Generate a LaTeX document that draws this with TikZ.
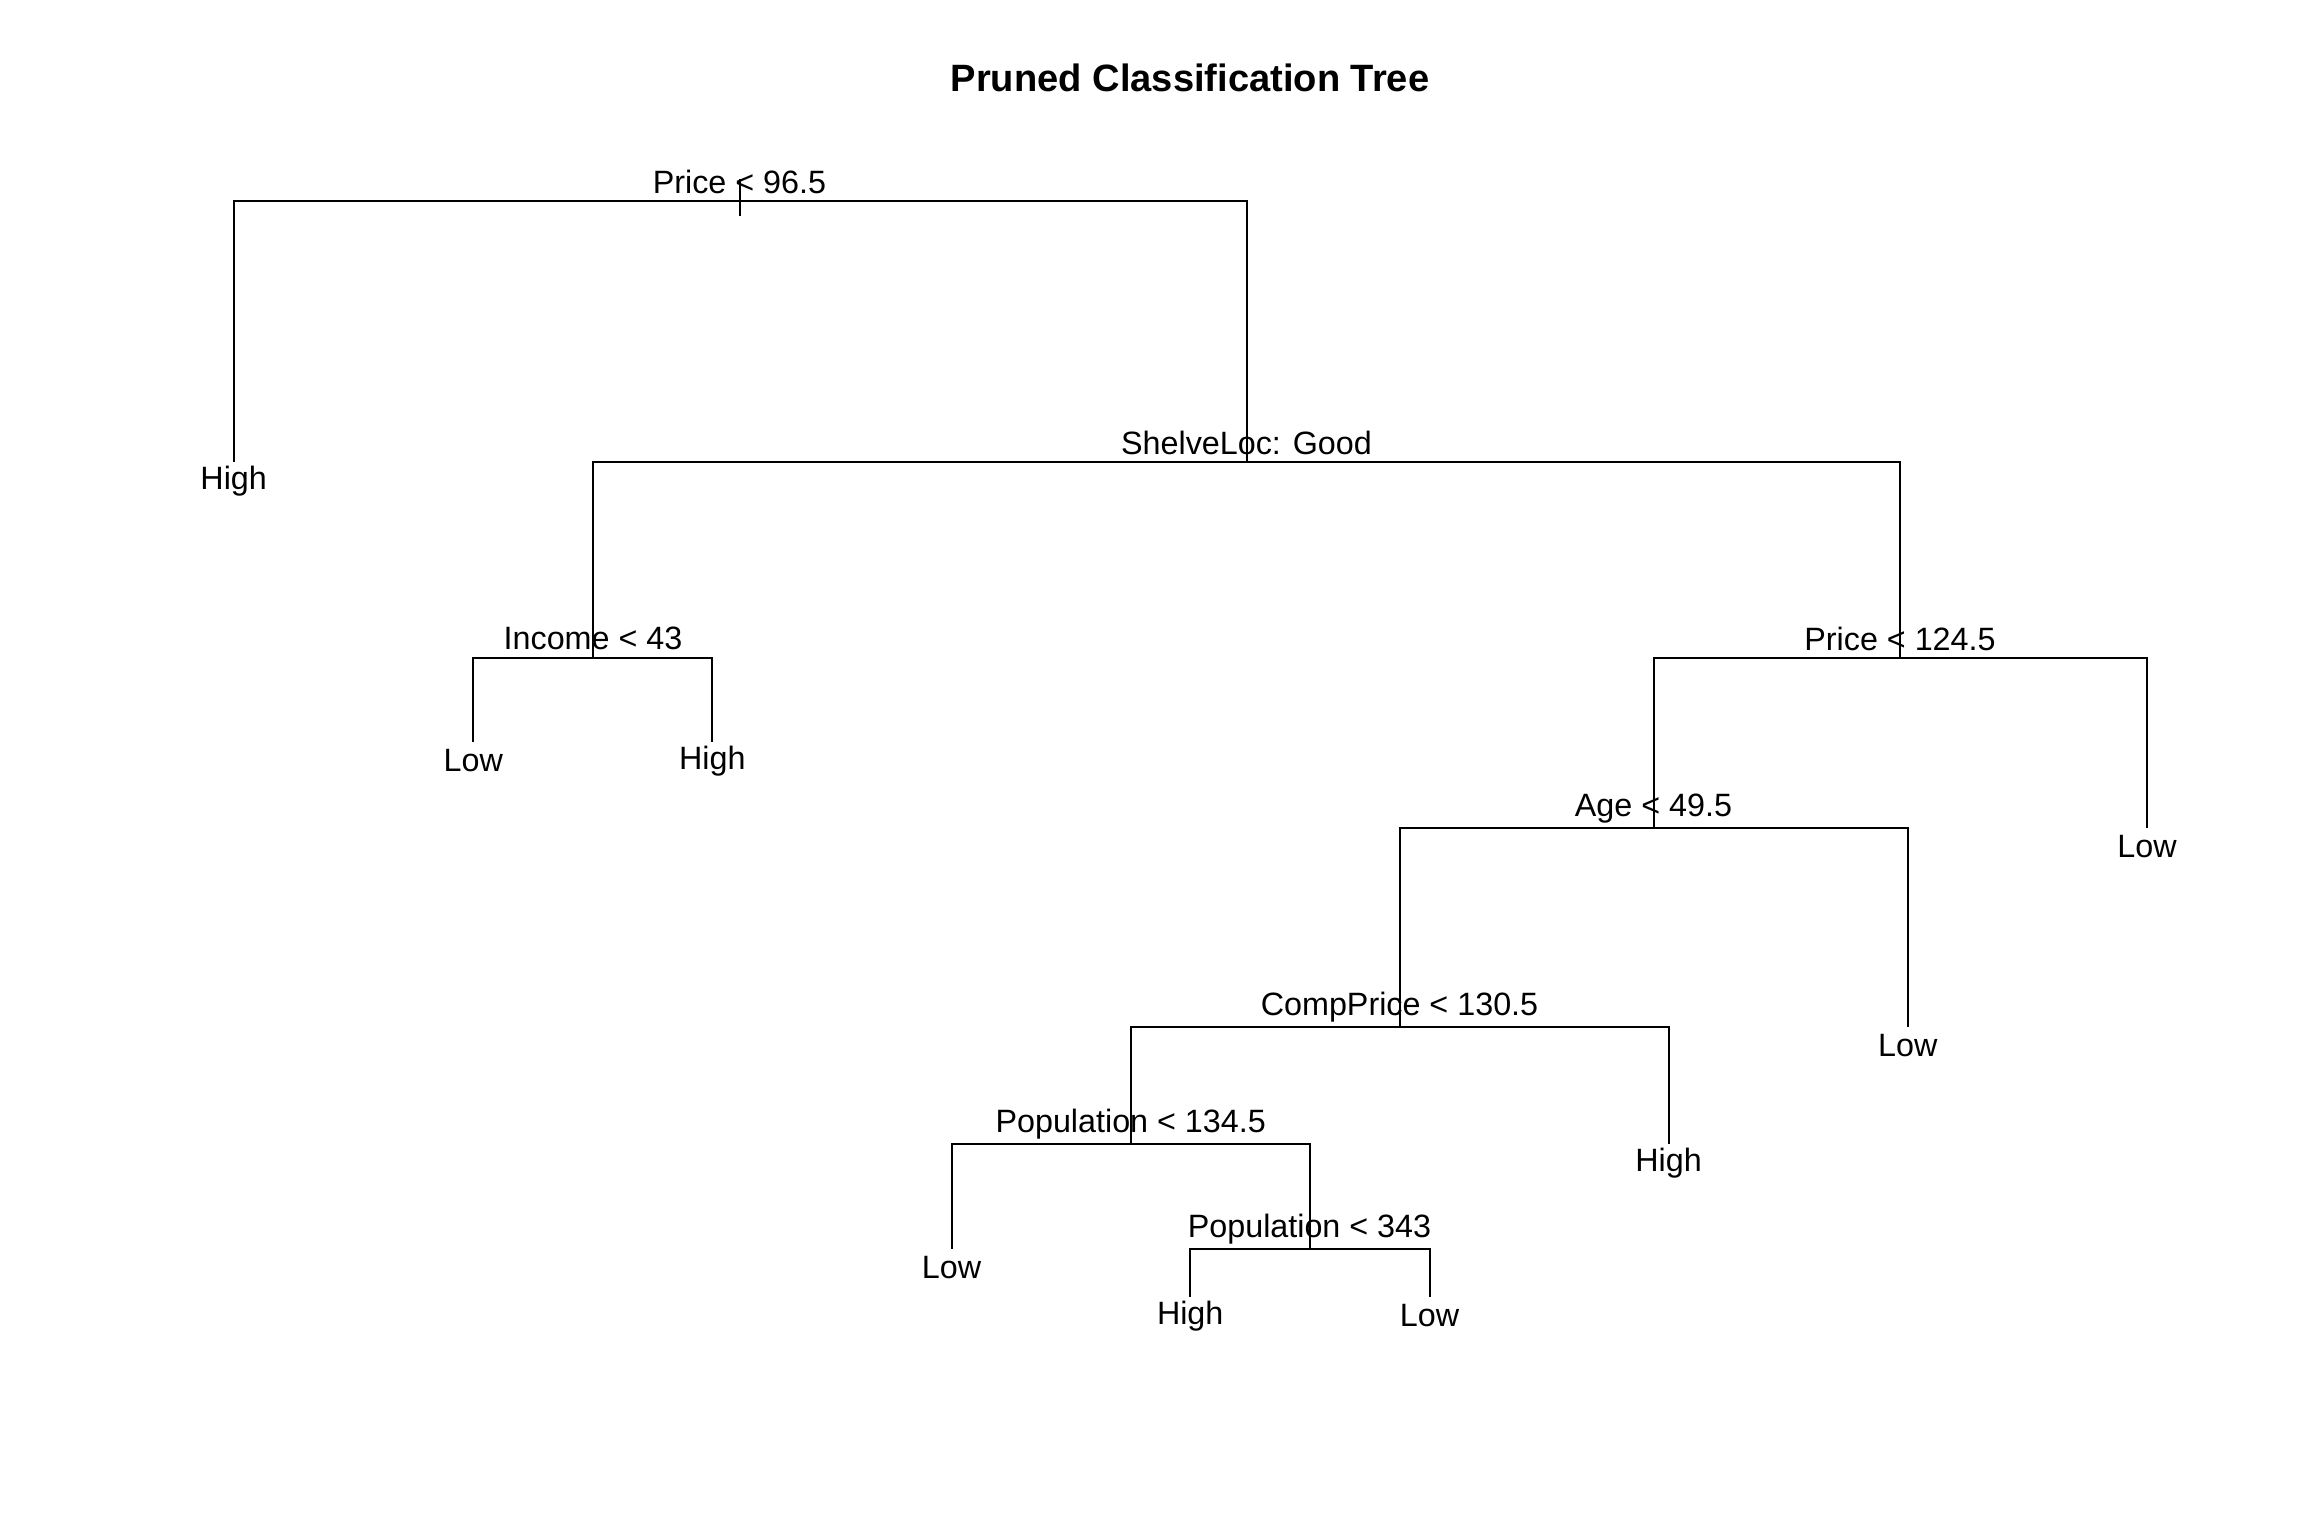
\documentclass[tikz,border=0pt]{standalone}
\usepackage{fontspec}
\setmainfont{Liberation Sans}
\begin{document}
\begin{tikzpicture}[x=1pt,y=-1pt,
  edge/.style={line width=2pt,black},
  splitlab/.style={inner sep=0pt,anchor=center,font=\fontsize{32.3}{38}\selectfont},
  leaflab/.style={inner sep=0pt,anchor=center,font=\fontsize{32.3}{38}\selectfont},
  titlelab/.style={inner sep=0pt,anchor=base,font=\fontsize{38.1}{45}\selectfont\bfseries}]
\useasboundingbox (0,0) rectangle (2304,1536);
\fill[white] (0,0) rectangle (2304,1536);
% tree node positions
\coordinate (root)   at (739.5,201);
\coordinate (rtop)   at (739.5,179.3);
\coordinate (rbot)   at (739.5,215.7);
\coordinate (high1)  at (233.7,462);
\coordinate (shelve) at (1246.5,462);
\coordinate (income) at (593,658.3);
\coordinate (low1)   at (473.3,742);
\coordinate (high2)  at (712.3,742);
\coordinate (price2) at (1900,658.3);
\coordinate (age)    at (1653.5,828);
\coordinate (low5)   at (2147,828);
\coordinate (comp)   at (1399.5,1026.5);
\coordinate (low4)   at (1907.8,1026.5);
\coordinate (pop1)   at (1130.7,1144);
\coordinate (high3)  at (1668.5,1144);
\coordinate (low2)   at (951.5,1249);
\coordinate (pop2)   at (1309.5,1249);
\coordinate (high4)  at (1190.2,1296.7);
\coordinate (low3)   at (1429.6,1296.7);
% connectors
\draw[edge] (rtop) -- (rbot);
\draw[edge] (root) -| (high1);
\draw[edge] (root) -| (shelve);
\draw[edge] (shelve) -| (income);
\draw[edge] (shelve) -| (price2);
\draw[edge] (income) -| (low1);
\draw[edge] (income) -| (high2);
\draw[edge] (price2) -| (age);
\draw[edge] (price2) -| (low5);
\draw[edge] (age) -| (comp);
\draw[edge] (age) -| (low4);
\draw[edge] (comp) -| (pop1);
\draw[edge] (comp) -| (high3);
\draw[edge] (pop1) -| (low2);
\draw[edge] (pop1) -| (pop2);
\draw[edge] (pop2) -| (high4);
\draw[edge] (pop2) -| (low3);
% split labels
\node[splitlab] (lroot)   at ([yshift=19.5pt]root)   {Price < 96.5};
\node[splitlab] (lshelve) at ([yshift=19.5pt]shelve) {ShelveLoc: Good};
\node[splitlab] (lincome) at ([yshift=19.5pt]income) {Income < 43};
\node[splitlab] (lprice2) at ([yshift=19.5pt]price2) {Price < 124.5};
\node[splitlab] (lage)    at ([yshift=19.5pt]age)    {Age < 49.5};
\node[splitlab] (lcomp)   at ([yshift=19.5pt]comp)   {CompPrice < 130.5};
\node[splitlab] (lpop1)   at ([yshift=19.5pt]pop1)   {Population < 134.5};
\node[splitlab] (lpop2)   at ([yshift=19.5pt]pop2)   {Population < 343};
% leaf labels
\node[leaflab] (lhigh1) at ([yshift=-19pt]high1) {High};
\node[leaflab] (llow1)  at ([yshift=-19pt]low1)  {Low};
\node[leaflab] (lhigh2) at ([yshift=-19pt]high2) {High};
\node[leaflab] (llow5)  at ([yshift=-19pt]low5)  {Low};
\node[leaflab] (llow4)  at ([yshift=-19pt]low4)  {Low};
\node[leaflab] (lhigh3) at ([yshift=-19pt]high3) {High};
\node[leaflab] (llow2)  at ([yshift=-19pt]low2)  {Low};
\node[leaflab] (lhigh4) at ([yshift=-19pt]high4) {High};
\node[leaflab] (llow3)  at ([yshift=-19pt]low3)  {Low};
% title
\node[titlelab] (title) at (1190,92) {Pruned Classification Tree};
\end{tikzpicture}
\end{document}
